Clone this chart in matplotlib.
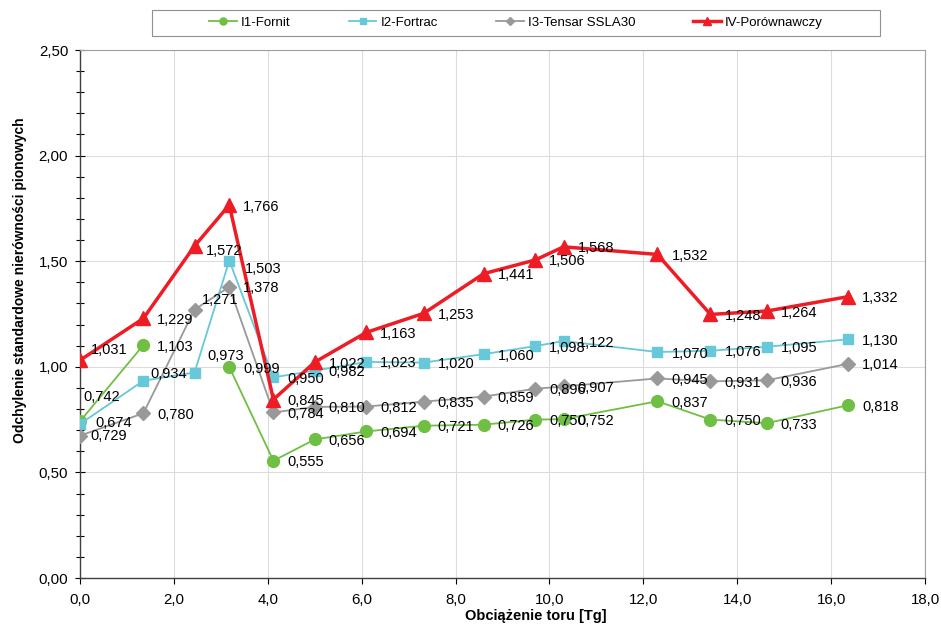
import numpy as np
import matplotlib
matplotlib.use('Agg')
from matplotlib import pyplot as plt
from matplotlib.patches import Rectangle

plt.rcParams['font.family'] = ['Liberation Sans', 'DejaVu Sans']

# load [Tg]
load = [0.0, 1.35, 2.44, 3.18, 4.12, 5.0, 6.1, 7.32, 8.6, 9.7, 10.3, 12.3, 13.43, 14.63, 16.36]

fornit = [0.742, 1.103, np.nan, 0.999, 0.555, 0.656, 0.694, 0.721, 0.726, 0.750, 0.752, 0.837, 0.750, 0.733, 0.818]
fortrac = [0.729, 0.934, 0.973, 1.503, 0.950, 0.982, 1.023, 1.020, 1.060, 1.098, 1.122, 1.070, 1.076, 1.095, 1.130]
tensar = [0.674, 0.780, 1.271, 1.378, 0.784, 0.810, 0.812, 0.835, 0.859, 0.896, 0.907, 0.945, 0.931, 0.936, 1.014]
porown = [1.031, 1.229, 1.572, 1.766, 0.845, 1.022, 1.163, 1.253, 1.441, 1.506, 1.568, 1.532, 1.248, 1.264, 1.332]

names = ['I1-Fornit', 'I2-Fortrac', 'I3-Tensar SSLA30', 'IV-Porównawczy']

# style per series: color, marker, markersize, linewidth
styles = [('#6fbf44', 'o', 8.5, 1.3),
          ('#66c8d8', 's', 7.2, 1.3),
          ('#999999', 'D', 7.3, 1.3),
          ('#ee1c25', '^', 10.5, 2.5)]

# label offsets (pixels) where the labels were moved by hand in the original
moved = {(3, 0): (11, 12), (1, 0): (10, -10), (2, 0): (15, 14), (0, 0): (3, 26),
         (1, 1): (7, 8), (3, 2): (11, -4), (2, 2): (7, 11), (1, 2): (13, 18),
         (1, 3): (16, -7)}


def fmt(v, n):
    return ('%.' + str(n) + 'f') % v


fig = plt.figure(figsize=(9.41, 6.3), dpi=100)
ax = fig.add_axes([80/941, 1-578/630, 845/941, 528/630])

series = [fornit, fortrac, tensar, porown]
handles = []
for k, ys in enumerate(series):
    c, m, ms, lw = styles[k]
    h, = ax.plot(load, ys, color=c, marker=m, markersize=ms, lw=lw,
                 markeredgecolor=c, markerfacecolor=c, label=names[k], zorder=3+k)
    handles.append(h)
    for i, (x, y) in enumerate(zip(load, ys)):
        if np.isnan(y):
            continue
        dx, dy = moved.get((k, i), (14, 0))
        ax.annotate(fmt(y, 3).replace('.', ','), (x, y), xytext=(dx, dy),
                    textcoords='offset pixels', ha='left', va='center_baseline',
                    fontsize=10.5, color='black', zorder=10)

ax.set_xlim(0, 18)
ax.set_ylim(0, 2.5)
ax.set_xticks(np.arange(0, 18.1, 2))
ax.set_yticks(np.arange(0, 2.51, 0.5))
ax.set_yticks(np.arange(0, 2.51, 0.1), minor=True)
ax.set_xticklabels([fmt(v, 1).replace('.', ',') for v in np.arange(0, 18.1, 2)])
ax.set_yticklabels([fmt(v, 2).replace('.', ',') for v in np.arange(0, 2.51, 0.5)])
ax.tick_params(axis='both', labelsize=10.8, colors='black')
ax.tick_params(axis='y', which='major', direction='inout', length=7, width=0.8, pad=5)
ax.tick_params(axis='y', which='minor', direction='inout', length=6, width=0.8)
ax.tick_params(axis='x', which='major', direction='out', length=4, width=0.8, pad=7)

ax.grid(True, which='major', color='#dcdcdc', lw=0.8)
ax.set_axisbelow(True)
for s in ['left', 'bottom']:
    ax.spines[s].set_color('#404040')
    ax.spines[s].set_linewidth(1.0)
for s in ['top', 'right']:
    ax.spines[s].set_color('#a0a0a0')
    ax.spines[s].set_linewidth(0.8)

fig.text(536/941, 1-616/630, 'Obciążenie toru [Tg]', ha='center', va='center',
         fontsize=10.5, fontweight='bold')
fig.text(20/941, 1-280/630, 'Odchylenie standardowe nierówności pionowych', ha='center',
         va='center', rotation=90, fontsize=10, fontweight='bold')

# legend box
fig.patches.append(Rectangle((152/941, 1-36/630), 728/941, 26/630, transform=fig.transFigure,
                             fill=False, edgecolor='#909090', lw=0.8))
fig.legend(handles=handles, loc='center', bbox_to_anchor=(516/941, 1-23/630), ncol=4,
           frameon=False, fontsize=9.5, markerscale=0.6, handlelength=2.1,
           handletextpad=0.3, columnspacing=4.4)

plt.savefig('out.png', dpi=100)
